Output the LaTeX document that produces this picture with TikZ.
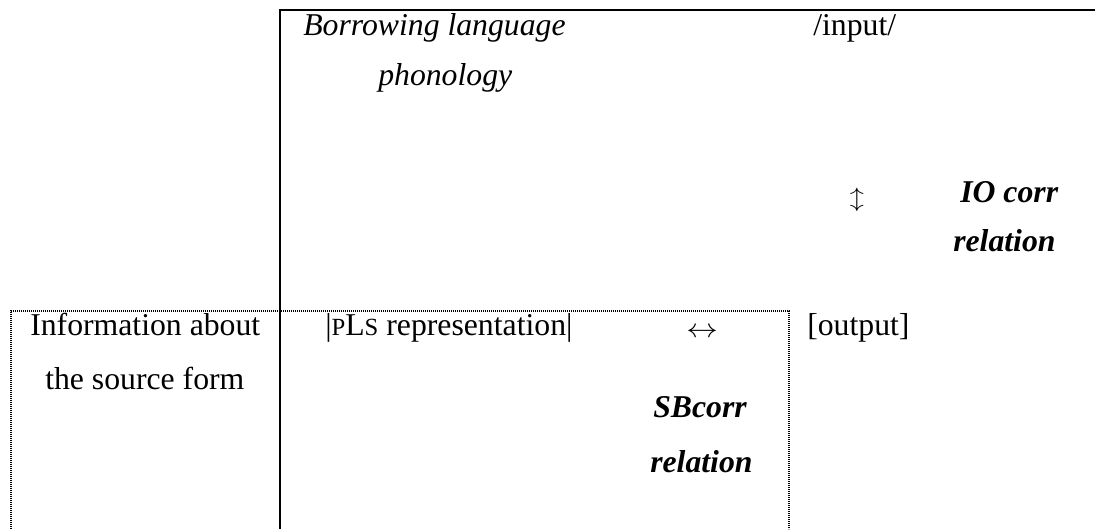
\documentclass[tikz,border=0pt]{standalone}
\usepackage{fontspec}
\setmainfont{Liberation Serif}
\newcommand{\smcap}[1]{{\fontsize{18.5}{20}\selectfont #1}}
\begin{document}
\begin{tikzpicture}[x=0.75pt,y=-0.75pt,
  txt/.style={inner sep=0pt, font=\fontsize{23.8}{28}\selectfont,
              text height=0.68em, text depth=0.2em},
  itl/.style={txt, font=\fontsize{23.8}{28}\selectfont\itshape},
  bitl/.style={txt, font=\fontsize{23.8}{28}\selectfont\bfseries\itshape},
  glyph/.style={inner sep=0pt, font=\fontsize{23.8}{28}\selectfont},
  solidrule/.style={line width=1.5pt, line join=miter},
  dotrule/.style={line width=1pt, dash pattern=on 0.9pt off 0.6pt}]
\useasboundingbox (0,0) rectangle (1095,529);

% table borders
\coordinate (tr) at (1095,10);
\coordinate (tl) at (280,10);
\coordinate (bl) at (280,529);
\draw[solidrule] (tr) -- (tl) -- (bl);

\coordinate (dbl) at (11,529);
\coordinate (dtl) at (11,311);
\coordinate (dtr) at (789,311);
\coordinate (dbr) at (789,529);
\draw[dotrule] (dbl) -- (dtl) -- (dtr) -- (dbr);

% upper row
\node[itl, anchor=west] (blp1) at (303,32) {Borrowing language};
\node[itl, anchor=west] (blp2) at (378,82) {phonology};
\node[txt, anchor=west] (inp) at (813,32) {/input/};
\node[glyph] (vert) at (857,200) {\scalebox{0.85}[0.68]{$\updownarrow$}};
\node[bitl, anchor=west] (io1) at (960,199) {IO corr};
\node[bitl, anchor=west] (io2) at (953,248) {relation};

% lower row
\node[txt, anchor=west] (src1) at (30,332) {Information about};
\node[txt, anchor=west] (src2) at (45,386) {the source form};
\node[txt, anchor=west] (pls) at (325,332) {|\smcap{P}L\smcap{S} representation|};
\node[glyph] (horiz) at (702,333) {\scalebox{0.95}[0.8]{$\leftrightarrow$}};
\node[txt, anchor=west] (outp) at (807,332) {[output]};
\node[bitl, anchor=west] (sb1) at (653,414) {SBcorr};
\node[bitl, anchor=west] (sb2) at (650,469) {relation};
\end{tikzpicture}
\end{document}
